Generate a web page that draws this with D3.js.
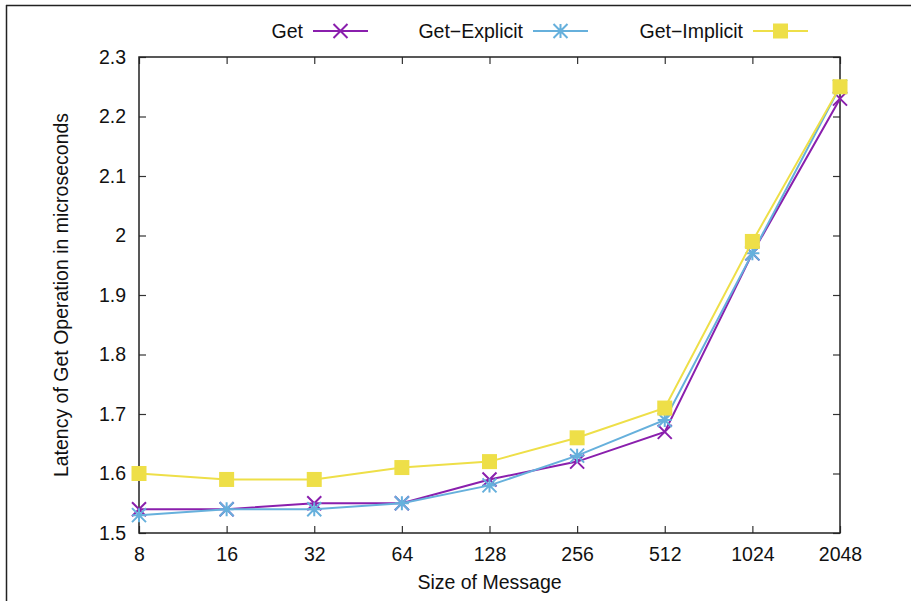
<!DOCTYPE html>
<html>
<head>
<meta charset="utf-8">
<script src="https://cdn.jsdelivr.net/npm/d3@7"></script>
<style>
  html, body { margin: 0; padding: 0; background: #fff; }
  svg { display: block; font-family: "Liberation Sans", Arial, Helvetica, sans-serif; }
</style>
</head>
<body>
<svg id="chart" width="911" height="601"></svg>
<script>
const sizes = [8, 16, 32, 64, 128, 256, 512, 1024, 2048];
const getValues      = [1.54, 1.54, 1.55, 1.55, 1.59, 1.62, 1.67, 1.97, 2.23];
const explicitValues = [1.53, 1.54, 1.54, 1.55, 1.58, 1.63, 1.69, 1.97, 2.25];
const implicitValues = [1.60, 1.59, 1.59, 1.61, 1.62, 1.66, 1.71, 1.99, 2.25];
const yTicks = [1.5, 1.6, 1.7, 1.8, 1.9, 2.0, 2.1, 2.2, 2.3];
const seriesNames = ["Get", "Get\u2212Explicit", "Get\u2212Implicit"];

const series = [
  { name: seriesNames[0], values: getValues, color: "#8a1fad", marker: "x" },
  { name: seriesNames[1], values: explicitValues, color: "#66b0dc", marker: "star" },
  { name: seriesNames[2], values: implicitValues, color: "#eedf48", marker: "square" }
];

const svg = d3.select("#chart");
const pL = 139, pR = 840, pT = 57, pB = 533;

const x = d3.scaleLog().base(2).domain([8, 2048]).range([pL, pR]);
const y = d3.scaleLinear().domain([1.5, 2.3]).range([pB, pT]);

// outer frame (top and left edges)
svg.append("line").attr("x1", 6).attr("x2", 911).attr("y1", 5.5).attr("y2", 5.5)
  .attr("stroke", "#222").attr("stroke-width", 1.5);
svg.append("line").attr("x1", 6.5).attr("x2", 6.5).attr("y1", 5).attr("y2", 601)
  .attr("stroke", "#222").attr("stroke-width", 1.5);

const fs = 19.5;
const tickLen = 7;

// axes
const xBottom = d3.axisBottom(x).tickValues(sizes).tickFormat(d3.format("d")).tickSizeInner(-tickLen).tickSizeOuter(0).tickPadding(14);
const xTop = d3.axisTop(x).tickValues(sizes).tickFormat("").tickSizeInner(-tickLen).tickSizeOuter(0);
const yLeft = d3.axisLeft(y).tickValues(yTicks).tickFormat(d => String(+d.toFixed(1))).tickSizeInner(-tickLen).tickSizeOuter(0).tickPadding(13);
const yRight = d3.axisRight(y).tickValues(yTicks).tickFormat("").tickSizeInner(-tickLen).tickSizeOuter(0);

function style(g) {
  g.selectAll("text").attr("font-size", fs).attr("fill", "#111").attr("font-family", "Liberation Sans, Arial, sans-serif");
  g.selectAll(".tick line").attr("stroke", "#333").attr("stroke-width", 1.2);
  g.select(".domain").remove();
}
svg.append("g").attr("transform", `translate(0,${pB})`).call(xBottom).call(style);
svg.append("g").attr("transform", `translate(0,${pT})`).call(xTop).call(style);
svg.append("g").attr("transform", `translate(${pL},0)`).call(yLeft).call(style);
svg.append("g").attr("transform", `translate(${pR},0)`).call(yRight).call(style);

// plot border
svg.append("rect").attr("x", pL).attr("y", pT).attr("width", pR - pL).attr("height", pB - pT)
  .attr("fill", "none").attr("stroke", "#222").attr("stroke-width", 1.5);

// markers
function drawMarker(g, type, cx, cy, color) {
  const r = 7;
  if (type === "x") {
    g.append("path").attr("d", `M${cx-r},${cy-r}L${cx+r},${cy+r}M${cx-r},${cy+r}L${cx+r},${cy-r}`)
      .attr("stroke", color).attr("stroke-width", 2).attr("fill", "none");
  } else if (type === "star") {
    g.append("path").attr("d", `M${cx-r},${cy-r}L${cx+r},${cy+r}M${cx-r},${cy+r}L${cx+r},${cy-r}M${cx-r},${cy}L${cx+r},${cy}M${cx},${cy-r}L${cx},${cy+r}`)
      .attr("stroke", color).attr("stroke-width", 2).attr("fill", "none");
  } else {
    g.append("rect").attr("x", cx - 7.5).attr("y", cy - 7.5).attr("width", 15).attr("height", 15).attr("fill", color);
  }
}

const line = d3.line().x((d, i) => x(sizes[i])).y(d => y(d));
series.forEach(s => {
  const g = svg.append("g");
  g.append("path").datum(s.values).attr("d", line).attr("fill", "none")
    .attr("stroke", s.color).attr("stroke-width", 2);
  s.values.forEach((v, i) => drawMarker(g, s.marker, x(sizes[i]), y(v), s.color));
});

// legend
const legendY = 31;
const legendLines = [[313, 368], [533, 588], [753, 808]];
series.forEach((s, i) => {
  const [x1, x2] = legendLines[i];
  const g = svg.append("g");
  g.append("text").attr("x", x1 - 10).attr("y", legendY).attr("dy", "0.35em")
    .attr("text-anchor", "end").attr("font-size", fs).attr("fill", "#111").text(s.name);
  g.append("line").attr("x1", x1).attr("x2", x2).attr("y1", legendY).attr("y2", legendY)
    .attr("stroke", s.color).attr("stroke-width", 2);
  drawMarker(g, s.marker, (x1 + x2) / 2, legendY, s.color);
});

// axis titles
svg.append("text").attr("x", (pL + pR) / 2).attr("y", 589).attr("text-anchor", "middle")
  .attr("font-size", fs).attr("fill", "#111").text("Size of Message");
svg.append("text").attr("transform", `translate(68,${(pT + pB) / 2}) rotate(-90)`)
  .attr("text-anchor", "middle").attr("font-size", fs).attr("fill", "#111")
  .text("Latency of Get Operation in microseconds");
</script>
</body>
</html>
